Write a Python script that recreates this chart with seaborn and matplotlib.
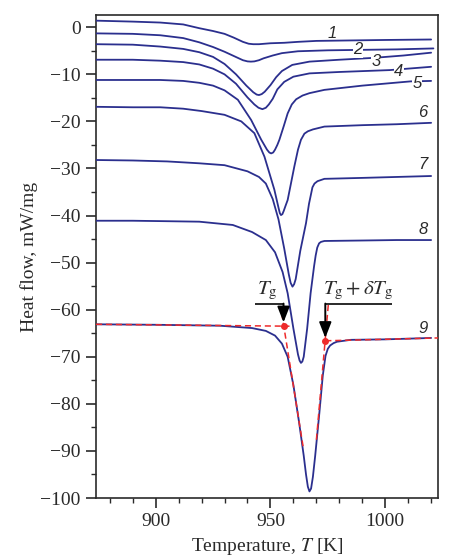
import pandas as pd
import matplotlib
matplotlib.use('Agg')
import matplotlib.pyplot as plt
import seaborn as sns

# DSC curves: temperature (K) and heat flow (mW/mg)
c1_T = [874, 890, 902, 912, 919, 925, 930, 934, 938, 940.5, 942.5, 945, 950, 956, 962, 970, 985, 1000, 1020]
c1_H = [1.4, 1.2, 1.0, 0.6, -0.2, -0.8, -1.4, -2.2, -3.1, -3.5, -3.6, -3.6, -3.4, -3.3, -3.1, -2.9, -2.8, -2.7, -2.6]

c2_T = [874, 890, 902, 912, 919, 925, 930, 934, 938, 940, 941.5, 943, 945, 947, 951, 955, 962, 975, 990, 1005, 1021]
c2_H = [-1.3, -1.4, -1.7, -2.3, -3.2, -4.2, -5.2, -6.1, -7.0, -7.25, -7.3, -7.25, -7.0, -6.6, -6.0, -5.5, -5.1, -4.9, -4.8, -4.7, -4.5]

c3_T = [874, 890, 902, 912, 919, 925, 930, 935, 939.5, 942.5, 944, 945, 946.2, 947.5, 950, 952.5, 955, 959.5, 967, 980, 995, 1008, 1020]
c3_H = [-3.6, -3.7, -4.1, -4.6, -5.3, -6.3, -7.8, -10.0, -12.4, -13.8, -14.3, -14.4, -14.2, -13.7, -12.3, -10.6, -9.3, -8.0, -7.3, -6.9, -6.5, -6.0, -5.4]

c4_T = [874, 890, 902, 912, 919, 925, 930, 935, 940, 943, 944.8, 946.5, 948, 949.3, 951, 953, 956, 960, 967, 980, 1002, 1020]
c4_H = [-6.9, -6.9, -7.1, -7.4, -7.9, -8.8, -10.0, -12.0, -14.9, -16.4, -17.1, -17.4, -17.1, -16.4, -15.2, -13.2, -11.6, -10.5, -9.8, -9.5, -9.1, -8.4]

c5_T = [874, 890, 902, 912, 919, 925, 930, 935.8, 941.6, 946, 948.5, 949.5, 950.3, 951.2, 952, 953, 953.9, 955.8, 957.5, 959.3, 961.2, 964, 967, 973.5, 990, 1011, 1020]
c5_H = [-11.2, -11.2, -11.2, -11.4, -11.8, -12.4, -13.4, -15.4, -19.7, -23.9, -26.0, -26.6, -26.8, -26.6, -26.0, -25.0, -23.9, -21.0, -18.3, -16.4, -15.3, -14.5, -14.0, -13.3, -12.4, -11.5, -11.4]

c6_T = [874, 890, 902, 912, 920, 930, 937.3, 943, 947.4, 951.7, 953.5, 954.1, 954.6, 955.2, 955.8, 956.6, 957.5, 960.4, 962, 963.3, 964.8, 966.3, 968.5, 973.5, 990, 1005, 1020]
c6_H = [-16.9, -17.0, -17.0, -17.3, -17.8, -18.6, -20.0, -22.5, -27.5, -34.5, -38.3, -39.5, -39.9, -39.7, -39.0, -37.9, -36.7, -29.6, -26.0, -23.9, -22.6, -22.1, -21.7, -21.1, -20.8, -20.6, -20.3]

c7_T = [874, 890, 905, 919, 930, 940, 945, 948, 951, 953.5, 956, 958, 958.8, 959.6, 960.3, 961, 963, 965.5, 966.8, 968.3, 969.2, 970.5, 973.5, 990, 1005, 1020]
c7_H = [-28.2, -28.3, -28.5, -28.9, -29.3, -30.6, -31.8, -33.2, -36.5, -40.8, -47.0, -52.5, -54.3, -55.1, -54.6, -53.5, -47.5, -41.6, -37.5, -34.0, -33.2, -32.7, -32.2, -32.0, -31.8, -31.6]

c8_T = [874, 890, 905, 919, 933.6, 942, 948, 952, 955.3, 957.5, 960, 962, 962.7, 963.3, 963.9, 964.5, 966, 967.5, 969, 969.7, 970.4, 971.2, 972, 973.5, 990, 1005, 1020]
c8_H = [-41.1, -41.1, -41.2, -41.3, -42.0, -43.5, -45.2, -47.8, -52.0, -56.5, -64.0, -69.5, -70.8, -71.3, -71.0, -70.0, -64.0, -56.5, -50.8, -48.5, -46.8, -45.9, -45.6, -45.4, -45.3, -45.2, -45.2]

c9_T = [874, 900, 928, 942, 948, 952, 955, 957.5, 960, 962.5, 964.5, 965.5, 966.3, 967, 967.7, 968.5, 969.5, 971.3, 972.8, 974, 975, 976, 977.5, 979, 985, 1000, 1020]
c9_H = [-63.1, -63.2, -63.4, -63.9, -64.5, -65.5, -67.2, -70.0, -76.0, -84.0, -91.0, -95.0, -97.6, -98.6, -98.0, -95.5, -91.0, -82.0, -74.0, -69.8, -68.3, -67.6, -67.1, -66.8, -66.4, -66.3, -66.0]

curves = [(c1_T, c1_H), (c2_T, c2_H), (c3_T, c3_H), (c4_T, c4_H), (c5_T, c5_H),
          (c6_T, c6_H), (c7_T, c7_H), (c8_T, c8_H), (c9_T, c9_H)]

# curve numbers and where they sit
label_text = ['1', '2', '3', '4', '5', '6', '7', '8', '9']
label_T = [977, 988, 996, 1006, 1013.8, 1016.5, 1016.5, 1016.5, 1016.5]
label_H = [-1.3, -4.8, -7.2, -9.3, -11.9, -18.2, -29.2, -43.0, -64.0]

# glass transition construction on curve 9
tg = (955.7, -63.4)
tg_end = (973.9, -66.6)
base_left_T, base_left_H = [874, 958.3], [-63.1, -63.5]
base_right_T, base_right_H = [973.9, 1023], [-66.6, -66.0]
tan_left_T, tan_left_H = [954.9, 964.2], [-60.7, -89.0]
tan_right_T, tan_right_H = [975.2, 969.9], [-59.0, -88.3]

sns.set_theme(style='ticks')
plt.rcParams['font.family'] = ['Liberation Serif', 'DejaVu Serif']
plt.rcParams['mathtext.fontset'] = 'stix'

rows = []
for i, (ts, hs) in enumerate(curves):
    for t, h in zip(ts, hs):
        rows.append({'curve': i + 1, 'T': t, 'H': h})
df = pd.DataFrame(rows)

navy = '#2b2f8e'
red = '#ee2b2b'
dark = '#2a2a2a'

fig = plt.figure(figsize=(4.49, 5.59), dpi=100)
ax = fig.add_axes([0.2138, 0.1091, 0.7617, 0.8632])

sns.lineplot(data=df, x='T', y='H', units='curve', estimator=None, sort=False,
             color=navy, lw=1.3, ax=ax, zorder=3)

dash = dict(color=red, lw=1.1, ls=(0, (4, 2.5)), zorder=4)
ax.plot(base_left_T, base_left_H, **dash)
ax.plot(base_right_T, base_right_H, **dash)
ax.plot(tan_left_T, tan_left_H, **dash)
ax.plot(tan_right_T, tan_right_H, **dash)
ax.plot([tg[0], tg_end[0]], [tg[1], tg_end[1]], 'o', color=red, ms=4, zorder=5)

# Tg pointers
ax.plot([943.3, tg[0]], [-58.7, -58.7], color=dark, lw=1.4, zorder=5, solid_capstyle='butt')
ax.plot([tg_end[0], 1002.9], [-58.7, -58.7], color=dark, lw=1.4, zorder=5, solid_capstyle='butt')
arr = dict(arrowstyle='-|>,head_length=0.95,head_width=0.37', color='black', lw=1.4,
           shrinkA=0, shrinkB=0, mutation_scale=10)
ax.annotate('', xy=(tg[0], -62.7), xytext=(tg[0], -58.7), arrowprops=arr, zorder=6)
ax.annotate('', xy=(tg_end[0], -66.0), xytext=(tg_end[0], -58.7), arrowprops=arr, zorder=6)
ax.text(948.6, -58.3, r'$T_{\rm g}$', fontsize=15, ha='center', va='bottom', color=dark)
ax.text(988.3, -58.3, r'$T_{\rm g}+\delta T_{\rm g}$', fontsize=15, ha='center', va='bottom', color=dark)

for s, t, h in zip(label_text, label_T, label_H):
    kw = {}
    if s in '2345':
        kw['bbox'] = dict(facecolor='white', edgecolor='none', pad=0.3)
    ax.text(t, h, s, fontsize=12, fontstyle='italic', family=['Liberation Sans'],
            ha='center', va='center', color=dark, zorder=7, **kw)

ax.set_xlim(874, 1023)
ax.set_ylim(-100, 2.5)
ax.set_xticks([900, 950, 1000])
ax.set_xticks(range(880, 1021, 10), minor=True)
ax.set_yticks(range(-100, 1, 10))
ax.set_yticks(range(-95, 1, 5), minor=True)
ax.set_xlabel('Temperature, $T$ [K]', fontsize=14, color=dark, labelpad=4)
ax.set_ylabel('Heat flow, mW/mg', fontsize=14, color=dark, labelpad=2)

for sp in ax.spines.values():
    sp.set_color(dark)
    sp.set_linewidth(1.2)
ax.tick_params(which='both', direction='out', colors=dark, labelsize=14, top=False, right=False)
ax.tick_params(which='major', length=7, width=1.2, pad=4)
ax.tick_params(which='minor', length=3.5, width=1.0)

fig.savefig('out.png', dpi=100)
